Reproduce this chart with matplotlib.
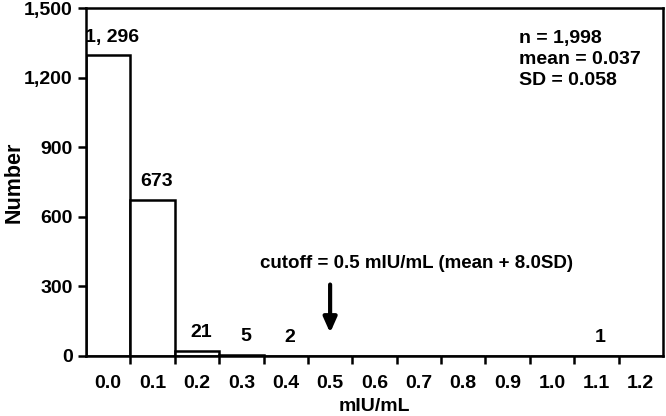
import numpy as np
import matplotlib.pyplot as plt

plt.rcParams['font.family'] = ['Liberation Sans', 'DejaVu Sans']
plt.rcParams['font.weight'] = 'bold'

bins = ['0.0', '0.1', '0.2', '0.3', '0.4', '0.5', '0.6', '0.7', '0.8', '0.9', '1.0', '1.1', '1.2']
counts = [1296, 673, 21, 5, 2, 0, 0, 0, 0, 0, 0, 1, 0]
etiquetas = ['1, 296', '673', '21', '5', '2', '', '', '', '', '', '', '1', '']
yticks = [0, 300, 600, 900, 1200, 1500]

fig = plt.figure(figsize=(6.66, 4.16), dpi=100)
ax = fig.add_axes([86/666, 60/416, 577/666, 348/416])

x = np.arange(len(bins))
ax.bar(x, counts, width=1.0, facecolor='white', edgecolor='black', linewidth=1.8)

for xi, c, lab in zip(x, counts, etiquetas):
    if lab:
        ax.annotate(lab, (xi, c), xytext=(3, 7), textcoords='offset points',
                    ha='center', va='bottom', fontsize=14, fontweight='bold')

ax.set_xlim(-0.5, len(bins) - 0.5)
ax.set_ylim(0, 1500)
ax.set_yticks(yticks)
ax.set_yticklabels([f'{v:,}' for v in yticks])
ax.set_xticks(x)
ax.set_xticklabels(bins)
ax.set_xticks(x[:-1] + 0.5, minor=True)
ax.tick_params(axis='x', which='major', length=0, pad=14, labelsize=14)
ax.tick_params(axis='x', which='minor', length=6, width=1.8, direction='out')
ax.tick_params(axis='y', length=6, width=1.8, direction='out', labelsize=14)
for s in ax.spines.values():
    s.set_linewidth(1.8)

ax.set_xlabel('mIU/mL', fontsize=14, fontweight='bold', labelpad=4)
# etiqueta del eje y puesta a mano para que no se corte
fig.text(14/666, 1 - 182/416, 'Number', rotation=90, ha='center', va='center',
         fontsize=15.5, fontweight='bold')

# flecha del cutoff
ax.annotate('', xy=(5, 88), xytext=(5, 320),
            arrowprops=dict(arrowstyle='-|>,head_width=0.4,head_length=0.9', color='black', lw=3))
ax.text(6.95, 400, 'cutoff = 0.5 mIU/mL (mean + 8.0SD)', ha='center', va='center',
        fontsize=13.5, fontweight='bold')

ax.text(9.25, 1405, 'n = 1,998\nmean = 0.037\nSD = 0.058', ha='left', va='top',
        fontsize=14, fontweight='bold', linespacing=1.3)

fig.savefig('out.png', dpi=100)
